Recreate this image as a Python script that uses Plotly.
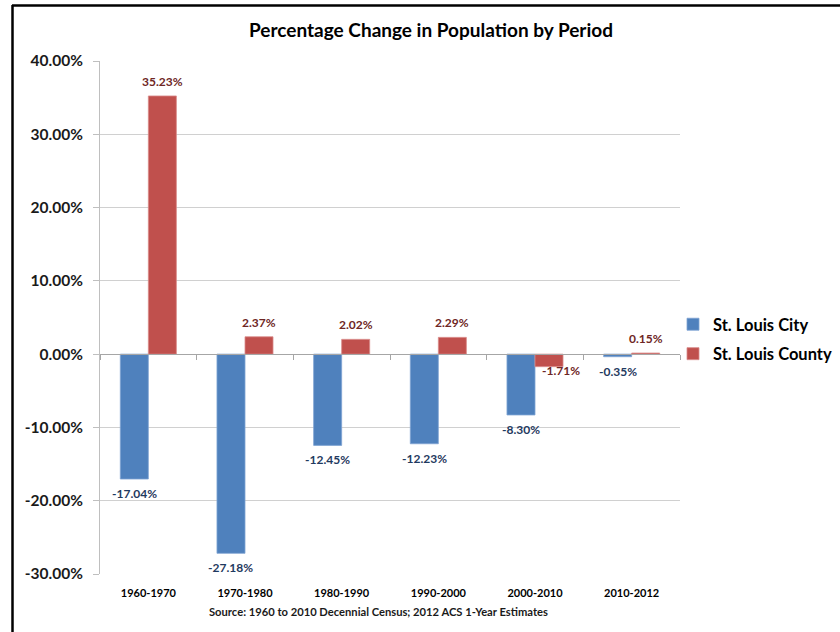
import plotly.graph_objects as go

periods = ["1960-1970", "1970-1980", "1980-1990", "1990-2000", "2000-2010", "2010-2012"]
city_values = [-17.04, -27.18, -12.45, -12.23, -8.30, -0.35]
county_values = [35.23, 2.37, 2.02, 2.29, -1.71, 0.15]
series_names = ["St. Louis City", "St. Louis County"]
title_text = "Percentage Change in Population by Period"
source_text = "Source: 1960 to 2010 Decennial Census; 2012 ACS 1-Year Estimates"
y_min, y_max, y_step = -30, 40, 10

FONT = "Lato, 'Open Sans', sans-serif"
BLUE = "#4F81BD"
RED = "#C0504D"
BLUE_LBL = "#1F3A60"
RED_LBL = "#6E2624"
GRID = "#D0D0D0"

W, H = 840, 632
ML, MR, MT, MB = 100, 160, 61, 58
plot_w = W - ML - MR
plot_h = H - MT - MB

fig = go.Figure()
fig.add_trace(go.Bar(x=periods, y=city_values, name=series_names[0], legendgroup="a",
                     marker=dict(color=BLUE, line=dict(width=0.8, color="#7FA3D3"))))
fig.add_trace(go.Bar(x=periods, y=county_values, name=series_names[1], legendgroup="b",
                     marker=dict(color=RED, line=dict(width=0.8, color="#D98C8A"))))
# dummy trace so the zero-line category axis is drawn
fig.add_trace(go.Scatter(x=periods, y=[None] * len(periods), xaxis="x2", yaxis="y",
                         showlegend=False, hoverinfo="skip", mode="markers"))

# data labels
n = len(periods)
cat_px = plot_w / n
bargap = 0.42
bar_px = cat_px * (1 - bargap) / 2
nudge = {(1, 4): (12, 11)}
for si, (vals, col) in enumerate([(city_values, BLUE_LBL), (county_values, RED_LBL)]):
    off = (-0.5 if si == 0 else 0.5) * bar_px
    for ci, v in enumerate(vals):
        pos = v >= 0
        dx, dy = nudge.get((si, ci), (0, 0))
        fig.add_annotation(
            x=periods[ci], y=v, xref="x", yref="y",
            text=f"{v:.2f}%", showarrow=False,
            xshift=off + dx,
            yanchor="bottom" if pos else "top",
            yshift=(5 if pos else -5) + dy,
            font=dict(family=FONT, size=12, color=col, weight="bold"),
        )

fig.add_annotation(
    x=0.5 - 0.02, y=-0.074, xref="paper", yref="paper", text=source_text, showarrow=False,
    xanchor="center", yanchor="middle",
    font=dict(family=FONT, size=11.2, color="#1a1a1a", weight="bold"),
)

# outer frame lines (top and left)
px_x = lambda p: (p - ML) / plot_w
px_y = lambda p: (H - MB - p) / plot_h
fig.add_shape(type="line", xref="paper", yref="paper", x0=px_x(12), x1=px_x(845),
              y0=px_y(5.5), y1=px_y(5.5), line=dict(color="black", width=2.5))
fig.add_shape(type="line", xref="paper", yref="paper", x0=px_x(12.5), x1=px_x(12.5),
              y0=px_y(5), y1=px_y(640), line=dict(color="black", width=2.5))

zero_pos = (0 - y_min) / (y_max - y_min)
y_ticks = list(range(y_min, y_max + 1, y_step))
y_ticktext = [f"{v:.2f}%" for v in y_ticks]

fig.update_layout(
    width=W, height=H,
    margin=dict(l=ML, r=MR, t=MT, b=MB, autoexpand=False),
    paper_bgcolor="white", plot_bgcolor="white",
    barmode="group", bargap=bargap, bargroupgap=0,
    title=dict(text=title_text, x=(431) / W, xanchor="center", y=1 - 30 / H, yanchor="middle",
               font=dict(family=FONT, size=19, color="black", weight="bold")),
    legend=dict(x=px_x(673), y=px_y(339), xanchor="left", yanchor="middle",
                font=dict(family=FONT, size=16.5, color="black", weight="bold"),
                itemwidth=30, traceorder="grouped", tracegroupgap=5,
                bgcolor="rgba(0,0,0,0)"),
    showlegend=True,
    xaxis=dict(type="category", categoryorder="array", categoryarray=periods,
               range=[-0.5, n - 0.5], showgrid=False, zeroline=False, showline=False,
               ticks="", ticklabelstandoff=11,
               tickfont=dict(family=FONT, size=11, color="black", weight="bold")),
    xaxis2=dict(type="category", categoryorder="array", categoryarray=periods,
                range=[-0.5, n - 0.5], overlaying="x", anchor="free", position=zero_pos,
                side="bottom", showgrid=False, zeroline=False, showline=True,
                linecolor="#A6A6A6", linewidth=1, ticks="outside", ticklen=5,
                tickcolor="#A6A6A6", tickson="boundaries", showticklabels=False),
    yaxis=dict(range=[y_min, y_max], tickvals=y_ticks, ticktext=y_ticktext,
               showgrid=True, gridcolor=GRID, gridwidth=1, zeroline=False,
               showline=True, linecolor="#BFBFBF", linewidth=1,
               ticks="outside", ticklen=6, tickcolor="#BFBFBF", ticklabelstandoff=7,
               tickfont=dict(family=FONT, size=15.5, color="#1a1a1a", weight="bold")),
)

fig.write_html("out.html", config={"displayModeBar": False},
               post_script="document.body.style.margin='0';document.body.style.padding='0';")
